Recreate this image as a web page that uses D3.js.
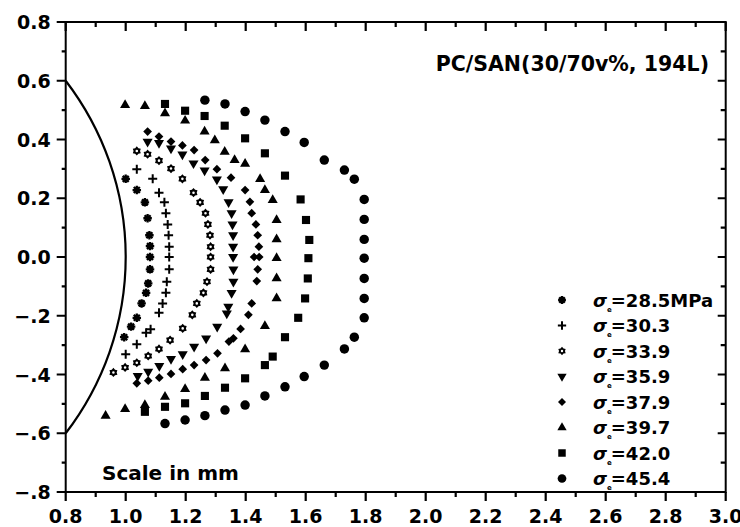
<!DOCTYPE html>
<html><head><meta charset="utf-8">
<script src="https://cdn.jsdelivr.net/npm/d3@7"></script>
<style>
body{margin:0;background:#fff;}
svg{display:block;}
text{font-family:"DejaVu Sans",sans-serif;font-weight:bold;fill:#000;}
</style></head><body>
<svg id="chart" width="740" height="527"></svg>
<script>
// ---------- data ----------
const xTickValues = [0.8,1.0,1.2,1.4,1.6,1.8,2.0,2.2,2.4,2.6,2.8,3.0];
const xMinorTicks = [0.9,1.1,1.3,1.5,1.7,1.9,2.1,2.3,2.5,2.7,2.9];
const yTickValues = [-0.8,-0.6,-0.4,-0.2,0.0,0.2,0.4,0.6,0.8];
const yTickLabels = ["\u2212.8","\u2212.6","\u2212.4","\u2212.2","0.0","0.2","0.4","0.6","0.8"];
const yMinorTicks = [-0.7,-0.5,-0.3,-0.1,0.1,0.3,0.5,0.7];
const legendLabels = ["28.5MPa","30.3","33.9","35.9","37.9","39.7","42.0","45.4"];
const titleText = "PC/SAN(30/70v%, 194L)";
const noteText = "Scale in mm";
// notch profile: circle of radius 1.0 mm centred at origin, drawn between y = +0.6 and -0.6
const notchRadius = 1.0;
const notchEnds = [[0.8,0.6],[0.8,-0.6]];

const s285 = [[1.00,0.266],[1.037,0.228],[1.064,0.186],[1.073,0.132],[1.079,0.074],[1.081,0.037],[1.081,0.0],[1.081,-0.042],[1.075,-0.090],[1.068,-0.122],[1.053,-0.158],[1.037,-0.207],[1.018,-0.237],[0.995,-0.273]];
const s303 = [[1.037,0.299],[1.09,0.266],[1.111,0.219],[1.129,0.186],[1.134,0.149],[1.14,0.111],[1.143,0.074],[1.145,0.035],[1.145,0.0],[1.145,-0.042],[1.137,-0.084],[1.134,-0.122],[1.123,-0.158],[1.111,-0.19],[1.083,-0.246],[1.068,-0.258],[1.037,-0.297],[1.0,-0.331]];
const s339 = [[1.037,0.361],[1.073,0.350],[1.111,0.328],[1.151,0.301],[1.189,0.266],[1.226,0.219],[1.248,0.186],[1.266,0.149],[1.274,0.111],[1.281,0.074],[1.283,0.035],[1.283,0.0],[1.283,-0.042],[1.271,-0.084],[1.259,-0.122],[1.237,-0.158],[1.222,-0.197],[1.19,-0.243],[1.148,-0.283],[1.111,-0.313],[1.075,-0.337],[1.037,-0.36],[0.998,-0.376],[0.959,-0.393]];
const s359 = [[1.073,0.393],[1.111,0.388],[1.151,0.370],[1.189,0.349],[1.226,0.319],[1.263,0.295],[1.304,0.264],[1.325,0.231],[1.343,0.187],[1.353,0.149],[1.356,0.111],[1.358,0.074],[1.358,0.035],[1.358,0.0],[1.359,-0.042],[1.359,-0.084],[1.353,-0.122],[1.342,-0.169],[1.337,-0.192],[1.305,-0.237],[1.268,-0.277],[1.228,-0.305],[1.19,-0.331],[1.151,-0.347],[1.112,-0.371],[1.075,-0.390],[1.04,-0.405]];
const s379 = [[1.073,0.427],[1.111,0.410],[1.151,0.393],[1.189,0.380],[1.228,0.364],[1.265,0.330],[1.304,0.299],[1.351,0.270],[1.398,0.228],[1.414,0.188],[1.42,0.149],[1.434,0.111],[1.44,0.074],[1.444,0.035],[1.428,0.0],[1.445,0.0],[1.44,-0.042],[1.437,-0.082],[1.42,-0.158],[1.409,-0.197],[1.383,-0.245],[1.359,-0.277],[1.344,-0.288],[1.306,-0.328],[1.268,-0.351],[1.228,-0.368],[1.19,-0.382],[1.151,-0.398],[1.112,-0.411],[1.075,-0.421],[1.037,-0.43]];
const s397 = [[0.998,0.517],[1.064,0.514],[1.131,0.489],[1.198,0.464],[1.263,0.427],[1.297,0.397],[1.33,0.358],[1.363,0.330],[1.398,0.317],[1.448,0.265],[1.464,0.228],[1.49,0.194],[1.503,0.126],[1.503,0.060],[1.503,-0.004],[1.503,-0.073],[1.503,-0.141],[1.464,-0.235],[1.398,-0.314],[1.331,-0.379],[1.264,-0.411],[1.198,-0.450],[1.131,-0.476],[1.064,-0.504],[0.998,-0.518],[0.933,-0.541]];
const s420 = [[1.131,0.521],[1.198,0.498],[1.263,0.480],[1.33,0.447],[1.398,0.404],[1.464,0.353],[1.531,0.277],[1.583,0.196],[1.601,0.126],[1.612,0.058],[1.609,-0.004],[1.607,-0.073],[1.598,-0.141],[1.575,-0.207],[1.531,-0.273],[1.49,-0.339],[1.464,-0.368],[1.398,-0.413],[1.331,-0.445],[1.264,-0.473],[1.198,-0.498],[1.131,-0.510],[1.064,-0.527]];
const s454 = [[1.264,0.534],[1.331,0.521],[1.398,0.495],[1.464,0.466],[1.531,0.427],[1.595,0.390],[1.662,0.330],[1.729,0.296],[1.762,0.265],[1.795,0.196],[1.795,0.128],[1.795,0.060],[1.795,-0.004],[1.795,-0.073],[1.795,-0.141],[1.795,-0.207],[1.762,-0.273],[1.729,-0.313],[1.662,-0.368],[1.595,-0.407],[1.531,-0.442],[1.464,-0.473],[1.398,-0.504],[1.331,-0.521],[1.264,-0.540],[1.198,-0.555],[1.131,-0.567]];

// ---------- symbols ----------
const symAsterisk = {draw(ctx,size){const r=Math.sqrt(size)/2;for(let k=0;k<4;k++){const a=k*Math.PI/4;ctx.moveTo(r*Math.cos(a),r*Math.sin(a));ctx.lineTo(-r*Math.cos(a),-r*Math.sin(a));}}};
const symPlus = {draw(ctx,size){const r=Math.sqrt(size)/2;ctx.moveTo(-r,0);ctx.lineTo(r,0);ctx.moveTo(0,-r);ctx.lineTo(0,r);}};
const symHexStar = {draw(ctx,size){const R=Math.sqrt(size)/2, ri=R*0.7;
  for(let k=0;k<12;k++){const a=-Math.PI/2+k*Math.PI/6, rr=k%2?ri:R;const px=rr*Math.cos(a),py=rr*Math.sin(a);if(k===0)ctx.moveTo(px,py);else ctx.lineTo(px,py);}
  ctx.closePath();const h=R*0.28;ctx.moveTo(h,0);ctx.arc(0,0,h,0,2*Math.PI);ctx.closePath();}};

const series = [
  {data:s285, type:symAsterisk, size:72, stroke:true, sw:2.3, rot:0},
  {data:s303, type:symPlus, size:81, stroke:true, sw:2, rot:0},
  {data:s339, type:symHexStar, size:85, stroke:false, rot:0},
  {data:s359, type:d3.symbolTriangle, size:44, stroke:false, rot:180},
  {data:s379, type:d3.symbolSquare, size:38, stroke:false, rot:45},
  {data:s397, type:d3.symbolTriangle, size:44, stroke:false, rot:0},
  {data:s420, type:d3.symbolSquare, size:66, stroke:false, rot:0},
  {data:s454, type:d3.symbolCircle, size:70, stroke:false, rot:0}
];

// ---------- chart ----------
const svg = d3.select("#chart");
const x = d3.scaleLinear().domain([0.8,3.0]).range([65.7,725.7]);
const y = d3.scaleLinear().domain([-0.8,0.8]).range([492,22]);
const [x0,x1] = x.range(), [y0,y1] = y.range();

// frame
svg.append("rect").attr("x",x0).attr("y",y1).attr("width",x1-x0).attr("height",y0-y1)
  .attr("fill","none").attr("stroke","#000").attr("stroke-width",2);

// tick marks (x ticks point down on top and bottom edges; y ticks point left on both edges)
const tickPath = d3.path();
function xTicks(vals, yy, len){ vals.forEach(v=>{tickPath.moveTo(x(v),yy);tickPath.lineTo(x(v),yy+len);}); }
function yTicks(vals, xx, len){ vals.forEach(v=>{tickPath.moveTo(xx,y(v));tickPath.lineTo(xx-len,y(v));}); }
xTicks(xTickValues, y0, 9); xTicks(xMinorTicks, y0, 5);
xTicks(xTickValues, y1, 9); xTicks(xMinorTicks, y1, 5);
yTicks(yTickValues, x0, 9); yTicks(yMinorTicks, x0, 4);
yTicks(yTickValues, x1, 8); yTicks(yMinorTicks, x1, 5);
svg.append("path").attr("d",tickPath.toString()).attr("fill","none")
  .attr("stroke","#000").attr("stroke-width",2.2);

// tick labels
svg.append("g").selectAll("text").data(xTickValues).join("text")
  .attr("x",d=>x(d)).attr("y",y0+31).attr("text-anchor","middle").style("font-size","19px")
  .text(d3.format(".1f"));
svg.append("g").selectAll("text").data(yTickValues).join("text")
  .attr("x",x0-15).attr("y",d=>y(d)+7).attr("text-anchor","end").style("font-size","19px")
  .text((d,i)=>yTickLabels[i]);

// notch arc
const rx = x(notchRadius)-x(0), ry = y(0)-y(notchRadius);
svg.append("path")
  .attr("d",`M${x(notchEnds[0][0])},${y(notchEnds[0][1])} A${rx},${ry} 0 0 1 ${x(notchEnds[1][0])},${y(notchEnds[1][1])}`)
  .attr("fill","none").attr("stroke","#000").attr("stroke-width",2.2);

// markers
series.forEach(s=>{
  const sym = d3.symbol().type(s.type).size(s.size);
  svg.append("g").selectAll("path").data(s.data).join("path")
    .attr("d",sym)
    .attr("transform",d=>`translate(${x(d[0])},${y(d[1])}) rotate(${s.rot})`)
    .attr("fill",s.stroke?"none":"#000")
    .attr("fill-rule","evenodd")
    .attr("stroke",s.stroke?"#000":"none")
    .attr("stroke-width",s.sw||0);
});

// legend
const legX = 562, legY = 300, legDy = 25.5;
series.forEach((s,i)=>{
  const cy = legY + i*legDy;
  const sym = d3.symbol().type(s.type).size(s.size*0.85);
  svg.append("path").attr("d",sym)
    .attr("transform",`translate(${legX},${cy}) rotate(${s.rot})`)
    .attr("fill",s.stroke?"none":"#000").attr("fill-rule","evenodd")
    .attr("stroke",s.stroke?"#000":"none").attr("stroke-width",s.sw||0);
  const t = svg.append("text").attr("x",593).attr("y",cy+6.5).style("font-size","18px");
  t.append("tspan").text("\u03C3").style("font-style","italic");
  t.append("tspan").text("e").style("font-size","7px").attr("dy",5);
  t.append("tspan").text("="+legendLabels[i]).attr("dy",-5).attr("dx",-1);
});

// title and note
svg.append("text").attr("x",709).attr("y",71).attr("text-anchor","end").style("font-size","20.5px").text(titleText);
svg.append("text").attr("x",102).attr("y",480).style("font-size","20px").text(noteText);
</script>
</body></html>
